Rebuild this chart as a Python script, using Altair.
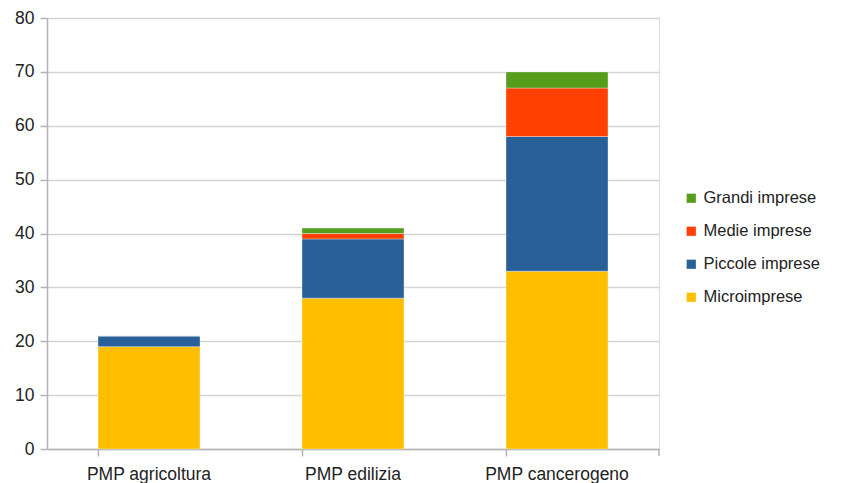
import altair as alt
import pandas as pd

categories = ["PMP agricoltura", "PMP edilizia", "PMP cancerogeno"]
series = ["Microimprese", "Piccole imprese", "Medie imprese", "Grandi imprese"]
micro = [19, 28, 33]
piccole = [2, 11, 25]
medie = [0, 1, 9]
grandi = [0, 1, 3]
colors = ["#ffbf00", "#2a6099", "#ff4000", "#579d1c"]
legend_order = ["Grandi imprese", "Medie imprese", "Piccole imprese", "Microimprese"]

rows = []
for si, (name, vals) in enumerate(zip(series, [micro, piccole, medie, grandi])):
    for c, v in zip(categories, vals):
        rows.append({"cat": c, "serie": name, "val": v, "ord": si})
df = pd.DataFrame(rows)

color_map = dict(zip(series, colors))

font = "Liberation Sans"
fs = 17.5

bars = alt.Chart(df).mark_bar(stroke="white", strokeOpacity=0.35, strokeWidth=1).encode(
    x=alt.X("cat:N", sort=categories, title=None,
            scale=alt.Scale(paddingInner=0.5, paddingOuter=0.25),
            axis=alt.Axis(labelAngle=0, bandPosition=0, grid=False, ticks=True,
                          tickSize=7, tickColor="#b3b3b3", tickWidth=1.5,
                          domainColor="#b3b3b3", domainWidth=1.5,
                          labelFontSize=fs, labelColor="#222", labelFont=font,
                          labelPadding=9, labelBound=False, labelOverlap=False)),
    y=alt.Y("val:Q", stack="zero", title=None,
            scale=alt.Scale(domain=[0, 80], nice=False),
            axis=alt.Axis(values=list(range(0, 81, 10)), grid=True, gridColor="#d4d4d4",
                          gridWidth=1.5, tickSize=7, tickColor="#b3b3b3", tickWidth=1.5,
                          domainColor="#b3b3b3", domainWidth=1.5,
                          labelFontSize=fs, labelColor="#222", labelFont=font,
                          labelPadding=6)),
    color=alt.Color("serie:N",
                    scale=alt.Scale(domain=legend_order, range=[color_map[s] for s in legend_order]),
                    legend=alt.Legend(title=None, orient="none", legendX=636, legendY=172,
                                      symbolType="square", symbolSize=85, symbolStrokeWidth=0,
                                      labelFontSize=16.5, labelColor="#222", labelFont=font,
                                      rowPadding=16, labelOffset=4)),
    order=alt.Order("ord:Q", sort="ascending"),
)

endtick = alt.Chart(pd.DataFrame({"a": [0]})).mark_rule(color="#b3b3b3", strokeWidth=1.5).encode(
    x=alt.value(612), y=alt.value(431), y2=alt.value(438)
)

chart = alt.layer(bars, endtick).properties(
    width=612, height=431,
    autosize=alt.AutoSizeParams(type="none"),
    padding={"left": 39, "top": 10, "right": 174, "bottom": 34},
).configure_view(stroke=None).configure(background="white")

chart.save("out.html", embed_options={"renderer": "svg", "actions": False})
